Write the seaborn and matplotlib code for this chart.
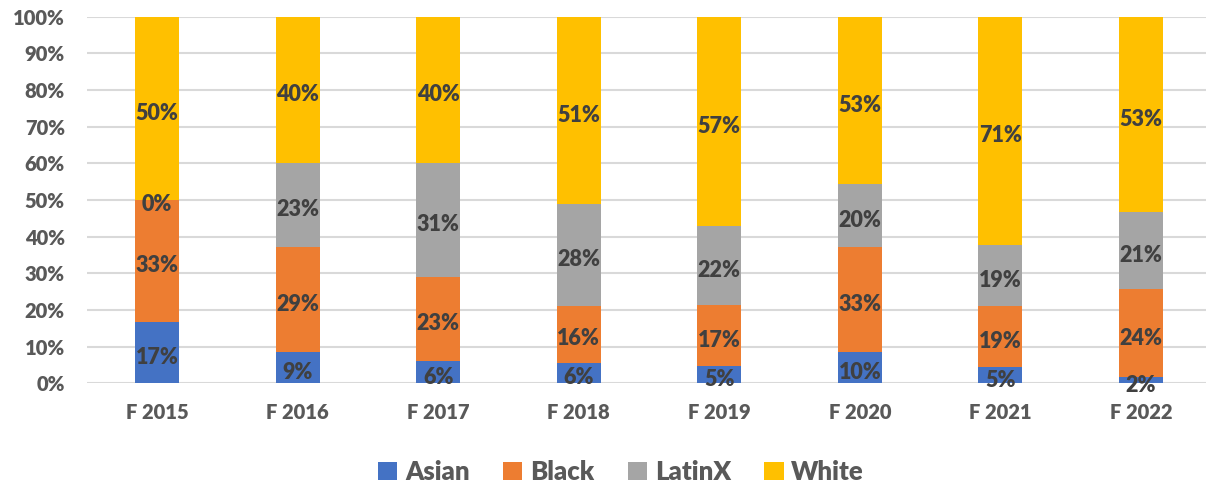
import numpy as np
import pandas as pd
import matplotlib
matplotlib.use("Agg")
import matplotlib.pyplot as plt
from matplotlib.patches import Patch
import seaborn as sns

years = ["F 2015", "F 2016", "F 2017", "F 2018", "F 2019", "F 2020", "F 2021", "F 2022"]
races = ["Asian", "Black", "LatinX", "White"]
asian = [16.7, 8.6, 6.0, 5.6, 4.6, 10.0, 5.0, 1.6]
black = [33.3, 28.6, 23.0, 15.6, 16.7, 33.0, 19.0, 24.0]
latinx = [0.0, 22.9, 31.0, 27.7, 21.5, 20.0, 19.0, 21.0]
white = [50.0, 40.0, 40.0, 51.1, 57.2, 53.0, 71.0, 53.4]
colors = ["#4472C4", "#ED7D31", "#A5A5A5", "#FFC000"]

sns.set_theme(style="white")
plt.rcParams['font.family'] = ['Lato', 'DejaVu Sans']

raw = pd.DataFrame({"Asian": asian, "Black": black, "LatinX": latinx, "White": white}, index=years)
share = raw.div(raw.sum(axis=1), axis=0)  # 100% stacked
bottoms = share.cumsum(axis=1) - share

fig = plt.figure(figsize=(12.06, 4.87), dpi=100)
ax = fig.add_axes([87 / 1206, 103.7 / 487, (1206 - 87) / 1206, 366.6 / 487])

for race, col in zip(races, colors):
    df = pd.DataFrame({"year": years, "val": share[race].values})
    sns.barplot(data=df, x="year", y="val", order=years, color=col, width=0.313,
                bottom=bottoms[race].values, ax=ax, saturation=1, zorder=3,
                linewidth=0)
    for i in range(len(years)):
        yc = bottoms[race].values[i] + share[race].values[i] / 2
        ax.annotate(f"{raw[race].values[i]:.0f}%", xy=(i, yc), xytext=(0, -2),
                    textcoords="offset points", ha="center", va="center_baseline",
                    fontsize=15.5, fontweight="heavy", color="#404040", zorder=5)

ax.set_xlim(-0.498, 7.462)
ax.set_ylim(0, 1)
ax.set_yticks(np.linspace(0, 1, 11))
ax.set_yticklabels([f"{int(round(v*100))}%" for v in np.linspace(0, 1, 11)])
ax.set_xlabel("")
ax.set_ylabel("")
ax.yaxis.grid(True, color="#D9D9D9", linewidth=1.5, zorder=0)
ax.set_axisbelow(True)
for s in ax.spines.values():
    s.set_visible(False)
ax.tick_params(axis="both", length=0)
ax.tick_params(axis="y", pad=16, labelsize=14.5, labelcolor="#595959")
ax.tick_params(axis="x", pad=14, labelsize=14.5, labelcolor="#595959")
for lab in ax.get_xticklabels() + ax.get_yticklabels():
    lab.set_fontweight("heavy")

handles = [Patch(facecolor=c, edgecolor="none", label=r) for r, c in zip(races, colors)]
fig.legend(handles=handles, loc="center", bbox_to_anchor=(0.515, 0.031), ncol=4,
           frameon=False, handlelength=0.75, handleheight=0.75, handletextpad=0.3,
           columnspacing=1.3, prop={"size": 18.5, "weight": "heavy"}, labelcolor="#595959")

fig.savefig("out.png", dpi=100)
